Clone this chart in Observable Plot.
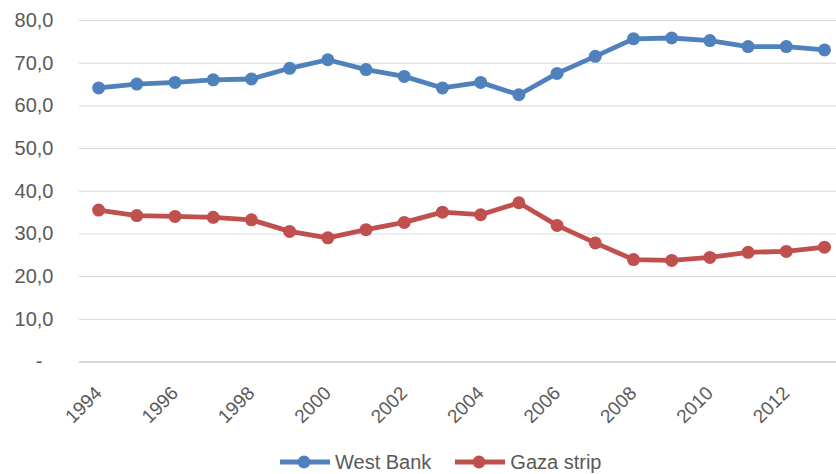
<!DOCTYPE html>
<html>
<head>
<meta charset="utf-8">
<script src="https://cdn.jsdelivr.net/npm/d3@7"></script>
<script src="https://cdn.jsdelivr.net/npm/@observablehq/plot@0.6"></script>
<style>
  html, body { margin: 0; padding: 0; background: #fff; }
  #chart { width: 836px; height: 474px; overflow: hidden; font-family: "Liberation Sans", Arial, sans-serif; }
  #legend { height: 24px; padding-top: 10px; padding-left: 280px; display: flex; align-items: center; color: #595959; font-size: 20px; }
  .item { display: flex; align-items: center; margin-right: 24px; }
  .item svg { margin-right: 5px; }
</style>
</head>
<body>
<div id="chart"></div>
<script>
const years = [1994,1995,1996,1997,1998,1999,2000,2001,2002,2003,2004,2005,2006,2007,2008,2009,2010,2011,2012,2013];
const westBank = [64.2,65.1,65.5,66.1,66.3,68.8,70.8,68.5,66.9,64.2,65.5,62.6,67.6,71.6,75.7,75.9,75.3,73.9,73.9,73.1];
const gaza = [35.6,34.3,34.1,33.9,33.3,30.6,29.1,31.0,32.7,35.1,34.5,37.3,32.0,27.9,24.0,23.8,24.5,25.7,25.9,26.9];
const seriesNames = ["West Bank", "Gaza strip"];
const seriesColors = ["#4F81BD", "#C0504D"];
const yTicks = [0,10,20,30,40,50,60,70,80];
const xTicks = [1994,1996,1998,2000,2002,2004,2006,2008,2010,2012];

const data = [
  ...years.map((y, i) => ({year: y, value: westBank[i], series: seriesNames[0]})),
  ...years.map((y, i) => ({year: y, value: gaza[i], series: seriesNames[1]}))
];

const fmt = d => d === 0 ? "-\u00a0\u00a0" : d.toFixed(1).replace(".", ",");

const chart = Plot.plot({
  width: 836,
  height: 440,
  marginLeft: 79,
  marginRight: 0,
  marginTop: 20,
  marginBottom: 78.5,
  style: {fontFamily: "Liberation Sans, Arial, sans-serif", fontSize: "20px", color: "#595959", background: "#fff"},
  x: {type: "linear", domain: [1993.5, 2013.314]},
  y: {domain: [0, 80]},
  color: {domain: seriesNames, range: seriesColors},
  marks: [
    Plot.ruleY(yTicks.filter(d => d !== 0), {stroke: "#d9d9d9", strokeWidth: 1}),
    Plot.ruleY([0], {stroke: "#d9d9d9", strokeWidth: 2}),
    Plot.axisY(yTicks, {tickSize: 0, tickPadding: 26, tickFormat: fmt, fontSize: 20, label: null}),
    Plot.axisX(xTicks, {tickSize: 0, tickPadding: 28, tickRotate: -45, tickFormat: d => String(d), fontSize: 19, label: null}),
    Plot.line(data, {x: "year", y: "value", z: "series", stroke: "series", strokeWidth: 4.8}),
    Plot.dot(data, {x: "year", y: "value", fill: "series", r: 6.5})
  ]
});

const container = document.getElementById("chart");
container.appendChild(chart);

const legend = document.createElement("div");
legend.id = "legend";
seriesNames.forEach((name, i) => {
  const item = document.createElement("div");
  item.className = "item";
  item.innerHTML = `<svg width="50" height="14"><line x1="0" y1="7" x2="50" y2="7" stroke="${seriesColors[i]}" stroke-width="4.8"/><circle cx="24" cy="7" r="6.5" fill="${seriesColors[i]}"/></svg><span>${name}</span>`;
  legend.appendChild(item);
});
container.appendChild(legend);
</script>
</body>
</html>
